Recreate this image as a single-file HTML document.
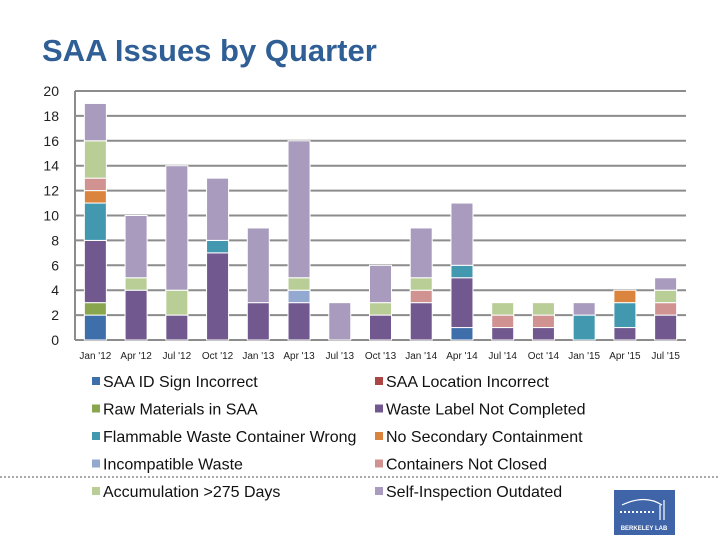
<!DOCTYPE html>
<html><head><meta charset="utf-8"><style>
body{margin:0;width:720px;height:540px;background:#fff;font-family:"Liberation Sans",sans-serif;position:relative;overflow:hidden}
</style></head><body>
<svg id="chart" width="720" height="540" xmlns="http://www.w3.org/2000/svg" style="position:absolute;left:0;top:0">
<text x="42" y="61" font-family="Liberation Sans, sans-serif" font-weight="bold" font-size="31" fill="#2f5f95">SAA Issues by Quarter</text>
<line x1="0" y1="477" x2="720" y2="477" stroke="#555" stroke-width="1" stroke-dasharray="2,2"/>
<g id="grid"></g><g id="bars"></g><g id="xlabels"></g><g id="ylabels"></g><g id="legend"></g>
<g>
<rect x="614" y="490" width="61" height="45" fill="#3f64a8"/>
<path d="M622 505 Q645 494 662 505 M660 505 L660 520 M664 500 L664 520" stroke="#fff" fill="none" stroke-width="1.2"/>
<line x1="620" y1="512" x2="656" y2="512" stroke="#fff" stroke-width="2" stroke-dasharray="2,2"/>
<text x="644" y="530" font-size="6" font-weight="bold" fill="#fff" text-anchor="middle" font-family="Liberation Sans, sans-serif">BERKELEY LAB</text>
</g>
</svg>
<script>
const categories=["Jan '12","Apr '12","Jul '12","Oct '12","Jan '13","Apr '13","Jul '13","Oct '13","Jan '14","Apr '14","Jul '14","Oct '14","Jan '15","Apr '15","Jul '15"];
const seriesNames=["SAA ID Sign Incorrect","SAA Location Incorrect","Raw Materials in SAA","Waste Label Not Completed","Flammable Waste Container Wrong","No Secondary Containment","Incompatible Waste","Containers Not Closed","Accumulation >275 Days","Self-Inspection Outdated"];
const seriesColors=["#3f6faa","#aa4643","#89a54e","#71588f","#4198af","#db843d","#93a9cf","#d19392","#b9cd96","#a99bbd"];
const idSign=[2,0,0,0,0,0,0,0,0,1,0,0,0,0,0];
const locationWrong=[0,0,0,0,0,0,0,0,0,0,0,0,0,0,0];
const rawMaterials=[1,0,0,0,0,0,0,0,0,0,0,0,0,0,0];
const wasteLabel=[5,4,2,7,3,3,0,2,3,4,1,1,0,1,2];
const flammable=[3,0,0,1,0,0,0,0,0,1,0,0,2,2,0];
const secondary=[1,0,0,0,0,0,0,0,0,0,0,0,0,1,0];
const incompatible=[0,0,0,0,0,1,0,0,0,0,0,0,0,0,0];
const notClosed=[1,0,0,0,0,0,0,0,1,0,1,1,0,0,1];
const accumulation=[3,1,2,0,0,1,0,1,1,0,1,1,0,0,1];
const selfInspection=[3,5,10,5,6,11,3,3,4,5,0,0,1,0,1];
const yTicks=[0,2,4,6,8,10,12,14,16,18,20];
const series=[idSign,locationWrong,rawMaterials,wasteLabel,flammable,secondary,incompatible,notClosed,accumulation,selfInspection];
const NS="http://www.w3.org/2000/svg";
const X0=75,X1=686,Y0=340,Y1=91,YMAX=20;
const y=v=>Y0-(v/YMAX)*(Y0-Y1);
const step=(X1-X0)/categories.length;
const xc=i=>X0+step*(i+0.5);
const BW=22;
function mk(tag,attrs,parent){const e=document.createElementNS(NS,tag);for(const k in attrs)e.setAttribute(k,attrs[k]);parent.appendChild(e);return e;}
const grid=document.getElementById('grid'),ylab=document.getElementById('ylabels');
yTicks.forEach(t=>{
 const l=mk('line',{x1:X0,x2:X1,y1:y(t),y2:y(t),stroke:'#8c8c8c','stroke-width':2},grid);
 
 
 const tx=mk('text',{x:59,y:y(t)+5,'text-anchor':'end','font-size':14,fill:'#222'},ylab);
 
 
 tx.textContent=t;
});
const ax=mk('line',{x1:X0,x2:X0,y1:Y1,y2:Y0,stroke:'#8c8c8c','stroke-width':2},grid);


const bars=document.getElementById('bars'),xl=document.getElementById('xlabels');
categories.forEach((c,i)=>{
 let acc=0;
 series.forEach((s,k)=>{
  const v=s[i]; if(!v)return;
  const r=mk('rect',{x:xc(i)-BW/2,y:y(acc+v),width:BW,height:y(acc)-y(acc+v),fill:seriesColors[k],stroke:'#fff','stroke-width':1},bars);
  
  
  acc+=v;
 });
 const t=mk('text',{x:xc(i),y:359,'text-anchor':'middle','font-size':10,fill:'#222'},xl);
 
 
 t.textContent=c;
});
const lg=document.getElementById('legend');
seriesNames.forEach((n,k)=>{
 const col=k%2,row=Math.floor(k/2);
 const lx=col?375:92,ly=382+row*27.5;
 const g=mk('g',{},lg);
 
 
 mk('rect',{x:lx,y:ly-5,width:8,height:8,fill:seriesColors[k]},g);
 const t=mk('text',{x:lx+11,y:ly+5,'font-size':16,fill:'#111'},g);
 t.textContent=n;
});
</script>
</body></html>
